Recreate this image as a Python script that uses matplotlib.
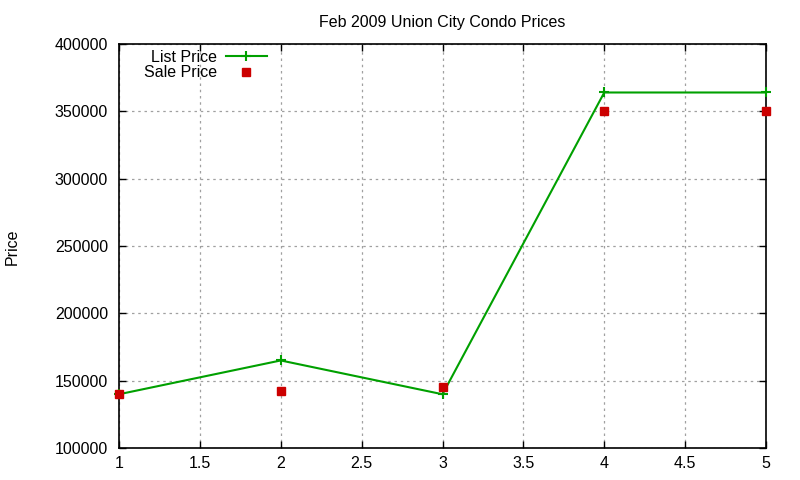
import matplotlib
matplotlib.use("Agg")
import matplotlib.pyplot as plt
from matplotlib.ticker import MultipleLocator, FuncFormatter

x = [1, 2, 3, 4, 5]
list_price = [139900, 165000, 139900, 364000, 364000]
sale_price = [140000, 142000, 145000, 350000, 350000]
title = "Feb 2009 Union City Condo Prices"

plt.rcParams['font.family'] = ['Liberation Sans', 'DejaVu Sans']
plt.rcParams['font.size'] = 11.5

fig = plt.figure(figsize=(8, 4.8), dpi=100)
ax = fig.add_axes([0.14875, 0.0667, 0.80875, 0.8416])

ax.plot(x, list_price, color='#00a000', lw=1.5, marker='+', ms=7, mew=1.5, label='List Price',
        clip_on=False, zorder=3)
ax.plot(x, sale_price, ls='none', marker='s', ms=5.5, color='#cc0000', label='Sale Price',
        clip_on=False, zorder=3)

ax.set_xlim(1, 5)
ax.set_ylim(100000, 400000)
ax.xaxis.set_major_locator(MultipleLocator(0.5))
ax.yaxis.set_major_locator(MultipleLocator(50000))
ax.xaxis.set_major_formatter(FuncFormatter(lambda v, p: f"{v:g}"))
ax.yaxis.set_major_formatter(FuncFormatter(lambda v, p: f"{int(v)}"))
ax.tick_params(direction='in', top=True, right=True, length=5, width=1, colors='black', labelsize=11.5)
ax.tick_params(axis='x', pad=6)
ax.tick_params(axis='y', pad=8)
ax.grid(True, color='#a0a0a0', ls=(0, (2, 3)), lw=0.9)
for s in ax.spines.values():
    s.set_linewidth(1.2)
    s.set_zorder(2.5)
ax.set_title(title, fontsize=11.5, pad=12)
fig.text(0.015, 0.485, "Price", rotation=90, ha='center', va='center', fontsize=11.5)

leg = ax.legend(loc='upper left', bbox_to_anchor=(0.026, 1.006), frameon=False, markerfirst=False,
                handlelength=2.6, borderpad=0, labelspacing=0.05, handletextpad=0.55)

fig.savefig("out.png", dpi=100)
